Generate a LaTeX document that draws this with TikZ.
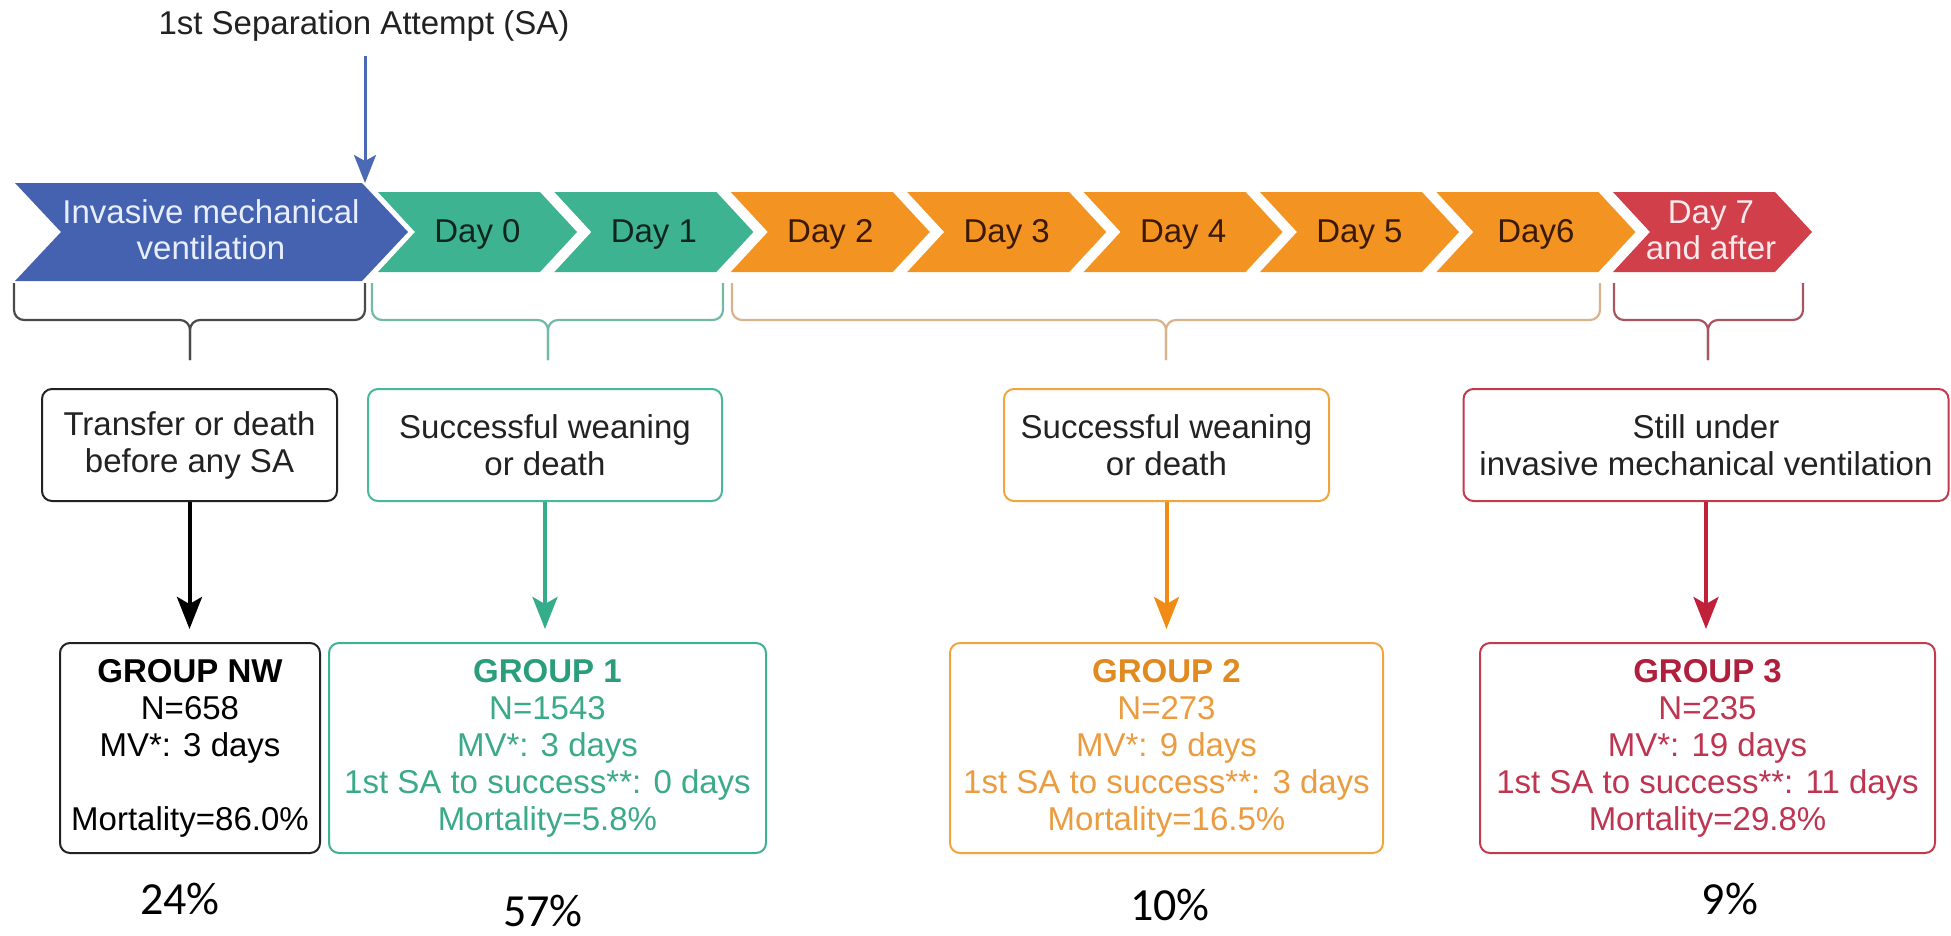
\documentclass[tikz,border=0pt]{standalone}
\usepackage{fontspec}
\setmainfont{Liberation Sans}
\newfontfamily\pctfont{Carlito}
\usetikzlibrary{arrows.meta}

% palette
\definecolor{ivblue}{HTML}{4462B0}
\definecolor{ivtext}{HTML}{E8EEFF}
\definecolor{daygreen}{HTML}{3EB391}
\definecolor{dayorange}{HTML}{F39322}
\definecolor{dayred}{HTML}{D1404A}
\definecolor{greentext}{HTML}{10261C}
\definecolor{orangetext}{HTML}{3B1A05}
\definecolor{redtext}{HTML}{FBE8EC}
\definecolor{boxtext}{HTML}{222222}
\definecolor{brkblack}{HTML}{4A4A4A}
\definecolor{brkgreen}{HTML}{74B9A5}
\definecolor{brkorange}{HTML}{D8B48C}
\definecolor{brkred}{HTML}{A85560}
\definecolor{edgegreen}{HTML}{48B898}
\definecolor{edgeorange}{HTML}{F0A640}
\definecolor{edgered}{HTML}{C23A4C}
\definecolor{arrgreen}{HTML}{35AD8A}
\definecolor{arrorange}{HTML}{F08C14}
\definecolor{arrred}{HTML}{C0203A}
\definecolor{saarrow}{HTML}{4A6AB5}
\definecolor{gonetitle}{HTML}{2A9E7C}
\definecolor{gonebody}{HTML}{3BAA88}
\definecolor{gtwotitle}{HTML}{E08A20}
\definecolor{gtwobody}{HTML}{EC9C40}
\definecolor{gthreetitle}{HTML}{B0203C}
\definecolor{gthreebody}{HTML}{BD3550}

\newcommand\bodyfont{\fontsize{33}{37}\selectfont}
\newcommand\chevfont{\fontsize{33}{36}\selectfont}

% chevron: #1 left x, #2 top, #3 bottom, #4 body width, #5 point depth, #6 colour
\newcommand\drawchev[6]{%
  \fill[#6] (#1,#2) -- ({#1+#4},#2) -- ({#1+#4+#5},{(#2+#3)/2}) -- ({#1+#4},#3)
    -- (#1,#3) -- ({#1+#5},{(#2+#3)/2}) -- cycle;}

\begin{document}
\begin{tikzpicture}[x=1pt,y=-1pt,
  lbl/.style={font=\chevfont, inner sep=0pt},
  condbox/.style={draw, rounded corners=10pt, line width=2pt, fill=white,
    align=center, font=\bodyfont, text=boxtext, inner sep=0pt},
  grpbox/.style={draw, rounded corners=10pt, line width=2pt, fill=white,
    align=center, font=\bodyfont, inner sep=0pt, minimum height=210pt},
  flow/.style={line width=4pt, -{Stealth[length=32pt,width=25pt,inset=7pt]},
    shorten >=13pt},
  brk/.style={line width=2.2pt, rounded corners=10pt},
  pct/.style={font=\pctfont\fontsize{46}{50}\selectfont, anchor=base, inner sep=0pt}]

\useasboundingbox[fill=white] (0,0) rectangle (1951,935);

% title and the arrow to the first separation attempt
\node[font=\bodyfont, text=boxtext, anchor=base] (sa) at (364,34) {1st Separation Attempt (SA)};
\coordinate (saTip) at (365,183);
\draw[saarrow, line width=3pt, shorten <=12pt,
  -{Stealth[length=28pt,width=22pt,inset=6pt]}] (sa.south -| saTip) -- (saTip);

% timeline chevrons
\drawchev{15}{183}{281}{347}{46}{ivblue}
\node[lbl, align=center, text=ivtext] (imv) at (211,230) {Invasive mechanical\\ventilation};

\foreach \i/\lab/\col/\tc in {0/Day 0/daygreen/greentext, 1/Day 1/daygreen/greentext,
    2/Day 2/dayorange/orangetext, 3/Day 3/dayorange/orangetext,
    4/Day 4/dayorange/orangetext, 5/Day 5/dayorange/orangetext,
    6/Day6/dayorange/orangetext}{
  \pgfmathsetmacro\xl{378+176.4*\i}
  \drawchev{\xl}{192}{272}{162}{37}{\col}
  \node[lbl, anchor=base, text=\tc] (day\i) at ({\xl+99.5},242) {\lab};
}
\drawchev{1613}{192}{272}{162}{37}{dayred}
\node[lbl, align=center, text=redtext] (day7) at (1711,230) {Day 7\\and after};

% braces under the timeline
\draw[brk, brkblack] (14,283) -- (14,320) -- (190,320) -- (190,360);
\draw[brk, brkblack] (365,283) -- (365,320) -- (190,320) -- (190,360);
\draw[brk, brkgreen] (372,283) -- (372,320) -- (548,320) -- (548,360);
\draw[brk, brkgreen] (723,283) -- (723,320) -- (548,320) -- (548,360);
\draw[brk, brkorange] (732,283) -- (732,320) -- (1166,320) -- (1166,360);
\draw[brk, brkorange] (1600,283) -- (1600,320) -- (1166,320) -- (1166,360);
\draw[brk, brkred] (1614,283) -- (1614,320) -- (1708,320) -- (1708,360);
\draw[brk, brkred] (1803,283) -- (1803,320) -- (1708,320) -- (1708,360);

% outcome boxes
\node[condbox, draw=boxtext, minimum width=295pt, minimum height=112pt] (c0) at (189.5,445)
  {Transfer or death\\before any SA};
\node[condbox, draw=edgegreen, minimum width=354pt, minimum height=112pt] (c1) at (545,445)
  {Successful weaning\\or death};
\node[condbox, draw=edgeorange, minimum width=325pt, minimum height=112pt] (c2) at (1166.5,445)
  {Successful weaning\\or death};
\node[condbox, draw=edgered, minimum width=485pt, minimum height=112pt] (c3) at (1706,445)
  {Still under\\invasive mechanical ventilation};

% group boxes
\node[grpbox, draw=boxtext, text=black, minimum width=260pt] (g0) at (190,748)
  {\textbf{GROUP NW}\\N=658\\MV*: 3 days\\\strut\\Mortality=86.0\%};
\node[grpbox, draw=daygreen, text=gonebody, minimum width=437pt] (g1) at (547.5,748)
  {\textcolor{gonetitle}{\textbf{GROUP 1}}\\N=1543\\MV*: 3 days\\1st SA to success**: 0 days\\Mortality=5.8\%};
\node[grpbox, draw=edgeorange, text=gtwobody, minimum width=433pt] (g2) at (1166.5,748)
  {\textcolor{gtwotitle}{\textbf{GROUP 2}}\\N=273\\MV*: 9 days\\1st SA to success**: 3 days\\Mortality=16.5\%};
\node[grpbox, draw=edgered, text=gthreebody, minimum width=455pt] (g3) at (1707.5,748)
  {\textcolor{gthreetitle}{\textbf{GROUP 3}}\\N=235\\MV*: 19 days\\1st SA to success**: 11 days\\Mortality=29.8\%};

% arrows from outcome to group
\draw[flow, black] (c0.south) -- (c0.south |- g0.north);
\draw[flow, arrgreen] (c1.south) -- (c1.south |- g1.north);
\draw[flow, arrorange] (c2.south) -- (c2.south |- g2.north);
\draw[flow, arrred] (c3.south) -- (c3.south |- g3.north);

% shares of patients
\node[pct] (p0) at (180,914) {24\%};
\node[pct] (p1) at (543,926) {57\%};
\node[pct] (p2) at (1170,920) {10\%};
\node[pct] (p3) at (1730,914) {9\%};
\end{tikzpicture}
\end{document}
